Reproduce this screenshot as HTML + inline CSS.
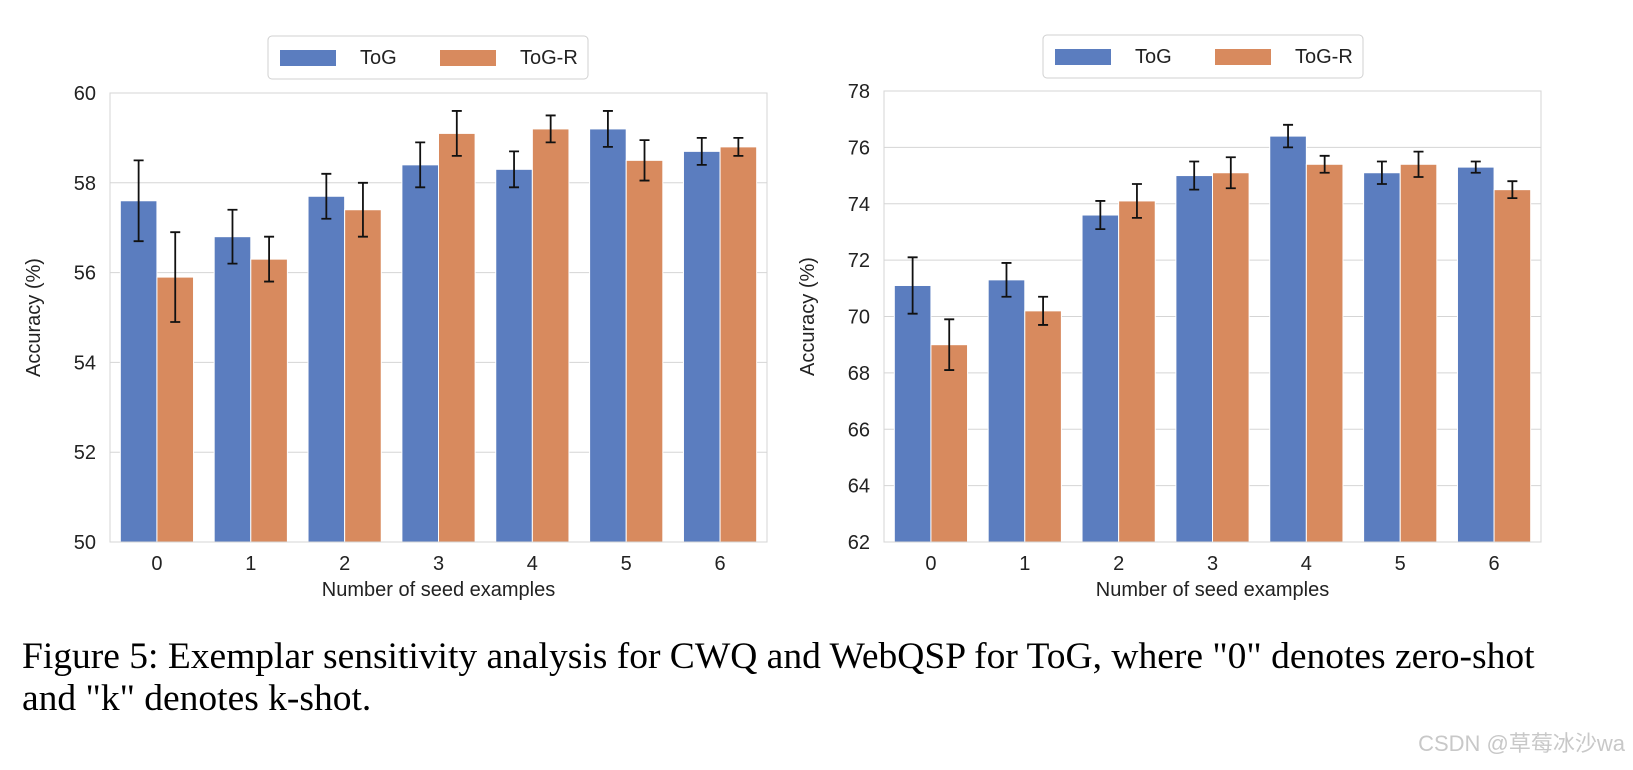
<!DOCTYPE html>
<html><head><meta charset="utf-8">
<style>
body{margin:0;background:#fff;width:1633px;height:770px;overflow:hidden;position:relative}
svg{position:absolute;left:0;top:0}
.cap{position:absolute;left:22px;top:636px;font-family:"Liberation Serif",serif;font-size:37.5px;line-height:42px;color:#000;width:1560px;white-space:normal}
.wm{position:absolute;right:8px;top:726px;font-family:"Liberation Sans","Noto Sans CJK SC",sans-serif;font-size:22px;color:#c8c8c8}
</style></head><body>
<svg id="chart" width="1633" height="770"></svg>
<div class="cap">Figure 5: Exemplar sensitivity analysis for CWQ and WebQSP for ToG, where "0" denotes zero-shot<br>and "k" denotes k-shot.</div>
<div class="wm">CSDN @草莓冰沙wa</div>
<script>
const categories=["0","1","2","3","4","5","6"];
const leftTicks=[50,52,54,56,58,60];
const leftToG=[57.6,56.8,57.7,58.4,58.3,59.2,58.7];
const leftToGLo=[56.7,56.2,57.2,57.9,57.9,58.8,58.4];
const leftToGHi=[58.5,57.4,58.2,58.9,58.7,59.6,59.0];
const leftToGR=[55.9,56.3,57.4,59.1,59.2,58.5,58.8];
const leftToGRLo=[54.9,55.8,56.8,58.6,58.9,58.05,58.6];
const leftToGRHi=[56.9,56.8,58.0,59.6,59.5,58.95,59.0];
const rightTicks=[62,64,66,68,70,72,74,76,78];
const rightToG=[71.1,71.3,73.6,75.0,76.4,75.1,75.3];
const rightToGLo=[70.1,70.7,73.1,74.5,76.0,74.7,75.1];
const rightToGHi=[72.1,71.9,74.1,75.5,76.8,75.5,75.5];
const rightToGR=[69.0,70.2,74.1,75.1,75.4,75.4,74.5];
const rightToGRLo=[68.1,69.7,73.5,74.55,75.1,74.95,74.2];
const rightToGRHi=[69.9,70.7,74.7,75.65,75.7,75.85,74.8];

const NS="http://www.w3.org/2000/svg";
const svg=document.getElementById('chart');
const BLUE="#5b7dbf",ORANGE="#d88a5e";
function mk(tag,attrs,parent){const e=document.createElementNS(NS,tag);for(const k in attrs)e.setAttribute(k,attrs[k]);(parent||svg).appendChild(e);return e;}

function drawPanel(p,id){
  const g=mk('g',{});
  
  
  const y=v=>p.y1-(v-p.ymin)/(p.ymax-p.ymin)*(p.y1-p.y0);
  const step=(p.x1-p.x0)/categories.length;
  const cx=i=>p.x0+step*(i+0.5);
  p.ticks.forEach(t=>{
    const l=mk('line',{x1:p.x0,x2:p.x1,y1:y(t),y2:y(t),stroke:'#d5d5d5','stroke-width':1},g);
    
    
    const tx=mk('text',{x:p.x0-14,y:y(t)+7,'text-anchor':'end','font-family':'Liberation Sans, sans-serif','font-size':20,fill:'#222'},g);
    tx.textContent=t;
    
    
  });
  const bw=step*0.39;
  const series=[[p.a,p.aLo,p.aHi,BLUE,-1,'bar-tog'],[p.b,p.bLo,p.bHi,ORANGE,0,'bar-tog-r']];
  series.forEach(s=>{
    s[0].forEach((v,i)=>{
      const x=cx(i)+s[4]*bw;
      const r=mk('rect',{x:x,y:y(v),width:bw,height:p.y1-y(v),fill:s[3],stroke:'#fff','stroke-width':1},g);
      
      
      const ex=x+bw/2;
      const eb=mk('path',{d:`M${ex},${y(s[1][i])}V${y(s[2][i])}M${ex-5},${y(s[1][i])}H${ex+5}M${ex-5},${y(s[2][i])}H${ex+5}`,stroke:'#111','stroke-width':1.8,fill:'none'},g);
      
      
    });
  });
  const fr=mk('rect',{x:p.x0,y:p.y0,width:p.x1-p.x0,height:p.y1-p.y0,fill:'none',stroke:'#d5d5d5','stroke-width':1},g);
  
  
  categories.forEach((c,i)=>{
    const t=mk('text',{x:cx(i),y:p.y1+28,'text-anchor':'middle','font-family':'Liberation Sans, sans-serif','font-size':20,fill:'#222'},g);
    t.textContent=c;
    
    
  });
  const xt=mk('text',{x:(p.x0+p.x1)/2,y:p.y1+54,'text-anchor':'middle','font-family':'Liberation Sans, sans-serif','font-size':20,fill:'#222'},g);
  xt.textContent='Number of seed examples';
  
  
  const ym=(p.y0+p.y1)/2;
  const yt=mk('text',{x:p.x0-70,y:ym,transform:`rotate(-90 ${p.x0-70} ${ym})`,'text-anchor':'middle','font-family':'Liberation Sans, sans-serif','font-size':20,fill:'#222'},g);
  yt.textContent='Accuracy (%)';
  
  
  const lg=mk('g',{},g);
  
  
  mk('rect',{x:p.lx,y:p.ly,width:320,height:43,rx:4,fill:'#fff',stroke:'#d0d0d0'},lg);
  [['ToG',BLUE,p.lx+12],['ToG-R',ORANGE,p.lx+172]].forEach(e=>{
    const gg=mk('g',{},lg);
    
    
    mk('rect',{x:e[2],y:p.ly+14,width:56,height:16,fill:e[1]},gg);
    const t=mk('text',{x:e[2]+80,y:p.ly+28,'font-family':'Liberation Sans, sans-serif','font-size':20,fill:'#222'},gg);
    t.textContent=e[0];
  });
}
drawPanel({x0:110,x1:767,y0:93,y1:542,ymin:50,ymax:60,ticks:leftTicks,a:leftToG,aLo:leftToGLo,aHi:leftToGHi,b:leftToGR,bLo:leftToGRLo,bHi:leftToGRHi,lx:268,ly:36},'left');
drawPanel({x0:884,x1:1541,y0:91,y1:542,ymin:62,ymax:78,ticks:rightTicks,a:rightToG,aLo:rightToGLo,aHi:rightToGHi,b:rightToGR,bLo:rightToGRLo,bHi:rightToGRHi,lx:1043,ly:35},'right');
</script>
</body></html>
